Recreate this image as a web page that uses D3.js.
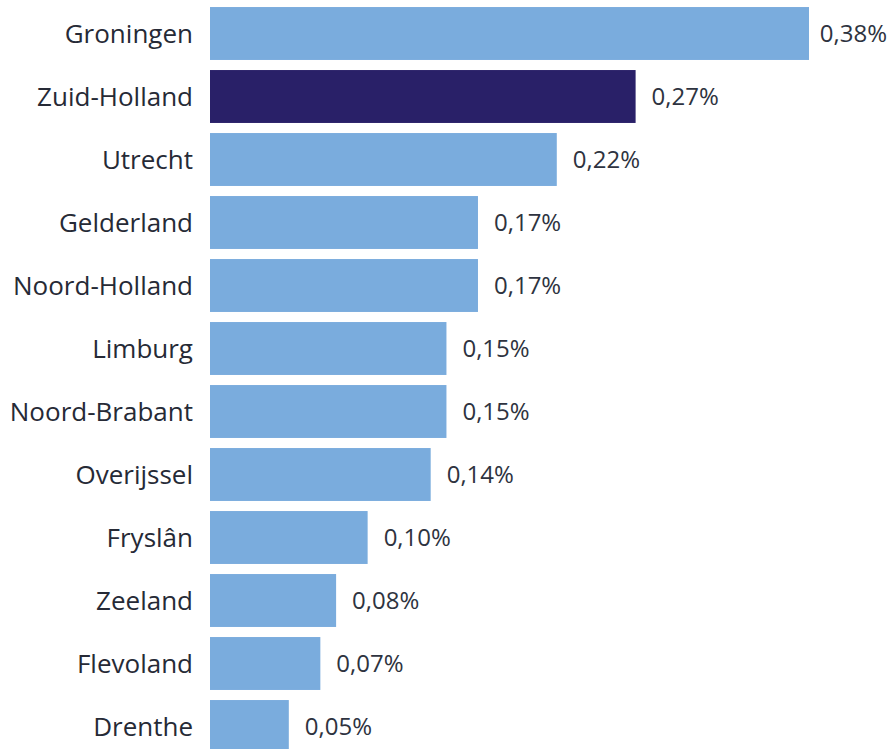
<!DOCTYPE html>
<html>
<head>
<meta charset="utf-8">
<script src="https://cdn.jsdelivr.net/npm/d3@7"></script>
<style>
  html, body { margin: 0; padding: 0; background: #ffffff; }
  svg { display: block; }
</style>
</head>
<body>
<svg id="chart" width="892" height="749"></svg>
<script>
const provinces = ["Groningen", "Zuid-Holland", "Utrecht", "Gelderland", "Noord-Holland", "Limburg",
  "Noord-Brabant", "Overijssel", "Fryslân", "Zeeland", "Flevoland", "Drenthe"];
const values = [0.38, 0.27, 0.22, 0.17, 0.17, 0.15, 0.15, 0.14, 0.10, 0.08, 0.07, 0.05];
const highlight = ["Zuid-Holland"];

const data = provinces.map((p, i) => ({ name: p, value: values[i] }));

const W = 892;
const svg = d3.select("#chart");
const x = d3.scaleLinear().domain([0, 0.38]).range([210, 809]);
const y = d3.scaleBand().domain(provinces).range([2, 758]).paddingInner(0.16).paddingOuter(0.08);

const font = "'Open Sans', 'Liberation Sans', sans-serif";

svg.selectAll("rect.bar").data(data).join("rect")
  .attr("class", "bar")
  .attr("x", x(0))
  .attr("y", d => y(d.name))
  .attr("width", d => x(d.value) - x(0))
  .attr("height", y.bandwidth())
  .attr("fill", d => highlight.includes(d.name) ? "#292068" : "#7aacdd");

svg.selectAll("text.cat").data(data).join("text")
  .attr("class", "cat")
  .attr("x", 193)
  .attr("y", d => y(d.name) + y.bandwidth() / 2)
  .attr("dy", "0.36em")
  .attr("text-anchor", "end")
  .attr("font-family", font)
  .attr("font-size", 26)
  .attr("fill", "#262a36")
  .text(d => d.name);

const fmt = v => v.toFixed(2).replace(".", ",") + "%";
svg.selectAll("text.val").data(data).join("text")
  .attr("class", "val")
  .attr("y", d => y(d.name) + y.bandwidth() / 2)
  .attr("dy", "0.36em")
  .attr("font-family", font)
  .attr("font-size", 24)
  .attr("fill", "#2e3340")
  .text(d => fmt(d.value))
  .attr("x", function(d) {
    const w = this.getComputedTextLength();
    return Math.min(x(d.value) + 16, W - 5 - w);
  });
</script>
</body>
</html>
